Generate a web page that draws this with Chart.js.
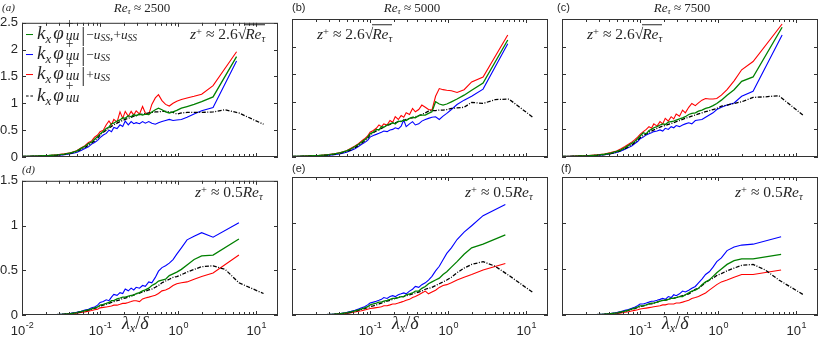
<!DOCTYPE html>
<html>
<head>
<meta charset="utf-8">
<script src="https://cdn.jsdelivr.net/npm/chart.js@4.4.1/dist/chart.umd.min.js"></script>
<style>
  html, body { margin: 0; padding: 0; background: #fff; width: 830px; height: 339px; overflow: hidden; position: relative; }
  .pan { position: absolute; }
  .pan canvas { display: block; }
  .t { position: absolute; white-space: nowrap; color: #262626; font-family: "Liberation Serif", "DejaVu Serif", serif; line-height: 1; z-index: 5; }
  .sans { font-family: "Liberation Sans", Arial, sans-serif; font-style: normal; }
  .t sub { font-size: 68%; vertical-align: -0.28em; line-height: 0; }
  .t sup { font-size: 68%; vertical-align: 0.45em; line-height: 0; }
  .su { position: relative; display: inline-block; font-size: 72%; margin-left: 2px; }
  .su .b { position: relative; top: 0.1em; }
  .su .p { position: absolute; left: 0; top: -0.78em; font-style: normal; }
  .kx { margin-right: 2px; }
  .bar { font-style: normal; font-size: 105%; vertical-align: -0.1em; margin: 0 1px 0 2px; }
  .t sub.bs { font-size: 70%; vertical-align: 0; }
  .t sub.bs sub { font-size: 72%; vertical-align: -0.25em; }
  .ov { border-top: 1px solid #262626; padding-top: 0px; margin-left: -1px; }
  .ln { display: inline-block; width: 7px; border-top: 1.4px solid; margin-right: 4px; vertical-align: middle; }
  .mid { transform: translateY(-50%); }
  .ctr { transform: translate(-50%, -50%); }
</style>
</head>
<body>
<div id="root"></div>
<script>
// ---- lambda_x / delta sample positions (shared), end points per panel ----
var lamGrid = [0.010, 0.013, 0.017, 0.022, 0.028, 0.035, 0.042, 0.050, 0.057, 0.064, 0.071, 0.078, 0.085, 0.093,
  0.10, 0.11, 0.12, 0.13, 0.14, 0.15, 0.165, 0.18, 0.195, 0.21, 0.23, 0.25, 0.27, 0.29, 0.32, 0.35, 0.38, 0.42,
  0.46, 0.51, 0.56, 0.62, 0.69, 0.77, 0.86, 0.96, 1.1, 1.3, 1.6, 2.0, 2.8, 4.0];
var lamEnd = [5.6, 5.8, 6.6, 6.0, 5.4, 6.4];      // last point of the coloured curves
var lamBlackTail = [6.0, 12.4];                    // black curve continues past the others

// ---- panel (a) Re_tau ~ 2500, z+ ~ 2.6 sqrt(Re_tau) ----
var blackA = [0.01, 0.013, 0.018, 0.025, 0.035, 0.05, 0.07, 0.1, 0.14, 0.18, 0.22, 0.26, 0.3, 0.35,
  0.41, 0.46, 0.5, 0.54, 0.57, 0.6, 0.63, 0.66, 0.68, 0.7, 0.72, 0.74, 0.76, 0.77, 0.79, 0.8, 0.81, 0.82, 0.83, 0.84,
  0.84, 0.85, 0.85, 0.84, 0.83, 0.8, 0.82, 0.83, 0.83, 0.83, 0.84, 0.88, 0.82, 0.61];
var greenA = [0.01, 0.014, 0.02, 0.028, 0.04, 0.055, 0.078, 0.11, 0.16, 0.2, 0.25, 0.28, 0.33, 0.38,
  0.43, 0.48, 0.53, 0.56, 0.62, 0.63, 0.67, 0.69, 0.73, 0.72, 0.77, 0.75, 0.79, 0.77, 0.8, 0.78, 0.8, 0.79, 0.84, 0.88,
  0.91, 0.88, 0.84, 0.82, 0.84, 0.87, 0.91, 0.94, 0.98, 1.03, 1.12, 1.87];
var redA = [0.01, 0.014, 0.02, 0.028, 0.04, 0.058, 0.08, 0.115, 0.17, 0.21, 0.27, 0.3, 0.37, 0.41,
  0.47, 0.5, 0.6, 0.67, 0.6, 0.7, 0.65, 0.84, 0.72, 0.85, 0.76, 0.85, 0.78, 0.86, 0.8, 0.94, 0.82, 0.79, 0.98, 1.1,
  1.16, 1.05, 0.98, 0.95, 1.0, 1.04, 1.07, 1.1, 1.13, 1.17, 1.33, 1.96];
var blueA = [0.01, 0.012, 0.016, 0.022, 0.03, 0.043, 0.06, 0.085, 0.12, 0.16, 0.19, 0.24, 0.27, 0.31,
  0.36, 0.41, 0.44, 0.5, 0.47, 0.55, 0.53, 0.6, 0.57, 0.67, 0.6, 0.66, 0.62, 0.64, 0.62, 0.66, 0.63, 0.66, 0.63, 0.61,
  0.64, 0.66, 0.68, 0.7, 0.68, 0.69, 0.7, 0.74, 0.8, 0.86, 0.92, 1.79];

// ---- panel (b) Re_tau ~ 5000 ----
var blackB = [0.01, 0.013, 0.018, 0.025, 0.035, 0.05, 0.07, 0.1, 0.13, 0.17, 0.21, 0.25, 0.29, 0.34,
  0.4, 0.44, 0.47, 0.5, 0.52, 0.54, 0.57, 0.59, 0.61, 0.62, 0.64, 0.65, 0.66, 0.68, 0.7, 0.71, 0.73, 0.75, 0.77, 0.8,
  0.83, 0.84, 0.84, 0.85, 0.85, 0.86, 0.88, 0.89, 0.9, 0.99, 0.97, 1.04, 1.05, 0.71];
var greenB = [0.01, 0.014, 0.02, 0.028, 0.04, 0.055, 0.078, 0.11, 0.15, 0.19, 0.23, 0.27, 0.31, 0.36,
  0.42, 0.45, 0.5, 0.49, 0.55, 0.54, 0.58, 0.6, 0.62, 0.6, 0.65, 0.64, 0.67, 0.66, 0.7, 0.72, 0.71, 0.75, 0.76, 0.76,
  0.79, 0.82, 1.0, 0.96, 0.94, 0.96, 1.0, 1.05, 1.12, 1.21, 1.34, 2.12];
var redB = [0.01, 0.014, 0.02, 0.028, 0.042, 0.058, 0.08, 0.115, 0.16, 0.2, 0.24, 0.29, 0.33, 0.38,
  0.45, 0.48, 0.52, 0.58, 0.55, 0.6, 0.58, 0.66, 0.63, 0.73, 0.68, 0.75, 0.72, 0.8, 0.77, 0.88, 0.82, 0.86, 0.94, 0.9,
  0.86, 0.85, 1.1, 1.24, 1.22, 1.21, 1.2, 1.17, 1.22, 1.36, 1.45, 2.21];
var blueB = [0.01, 0.012, 0.016, 0.022, 0.03, 0.043, 0.06, 0.085, 0.12, 0.15, 0.19, 0.23, 0.26, 0.3,
  0.36, 0.39, 0.41, 0.43, 0.45, 0.47, 0.46, 0.49, 0.5, 0.53, 0.51, 0.56, 0.67, 0.55, 0.6, 0.64, 0.58, 0.6, 0.65, 0.68,
  0.7, 0.72, 0.73, 0.68, 0.74, 0.79, 0.86, 0.95, 1.03, 1.1, 1.23, 2.05];

// ---- panel (c) Re_tau ~ 7500 ----
var blackC = [0.01, 0.012, 0.016, 0.022, 0.03, 0.043, 0.06, 0.085, 0.12, 0.15, 0.19, 0.22, 0.26, 0.3,
  0.35, 0.39, 0.42, 0.45, 0.47, 0.49, 0.52, 0.54, 0.56, 0.57, 0.59, 0.61, 0.62, 0.64, 0.66, 0.68, 0.7, 0.72, 0.74, 0.76,
  0.78, 0.8, 0.82, 0.84, 0.86, 0.88, 0.92, 0.94, 0.97, 1.0, 1.08, 1.09, 1.11, 0.75];
var greenC = [0.01, 0.013, 0.018, 0.025, 0.035, 0.05, 0.07, 0.1, 0.13, 0.17, 0.21, 0.25, 0.28, 0.33,
  0.38, 0.44, 0.42, 0.48, 0.5, 0.53, 0.55, 0.58, 0.6, 0.59, 0.63, 0.64, 0.65, 0.67, 0.69, 0.71, 0.73, 0.77, 0.79, 0.8,
  0.83, 0.85, 0.88, 0.9, 0.93, 0.97, 1.03, 1.12, 1.22, 1.37, 1.45, 2.35];
var redC = [0.01, 0.014, 0.02, 0.028, 0.04, 0.055, 0.08, 0.11, 0.15, 0.19, 0.23, 0.27, 0.31, 0.36,
  0.41, 0.46, 0.5, 0.55, 0.52, 0.6, 0.56, 0.64, 0.6, 0.7, 0.65, 0.73, 0.69, 0.78, 0.74, 0.85, 0.8, 0.9, 0.97, 0.93,
  0.98, 1.03, 1.06, 1.05, 1.05, 1.06, 1.12, 1.22, 1.38, 1.58, 1.73, 2.41];
var blueC = [0.01, 0.012, 0.016, 0.022, 0.03, 0.042, 0.058, 0.08, 0.11, 0.14, 0.17, 0.2, 0.24, 0.28,
  0.33, 0.36, 0.4, 0.42, 0.44, 0.46, 0.47, 0.49, 0.47, 0.52, 0.5, 0.55, 0.53, 0.57, 0.55, 0.58, 0.6, 0.62, 0.6, 0.66,
  0.67, 0.68, 0.72, 0.76, 0.8, 0.86, 0.9, 0.94, 0.98, 1.1, 1.19, 2.21];

// ---- panel (d) Re_tau ~ 2500, z+ ~ 0.5 Re_tau ----
var blackD = [0, 0.001, 0.002, 0.003, 0.005, 0.01, 0.015, 0.025, 0.035, 0.045, 0.055, 0.065, 0.075, 0.085,
  0.1, 0.11, 0.12, 0.13, 0.14, 0.15, 0.16, 0.17, 0.185, 0.19, 0.2, 0.21, 0.225, 0.235, 0.245, 0.26, 0.265, 0.28, 0.29, 0.31,
  0.33, 0.36, 0.38, 0.4, 0.42, 0.43, 0.45, 0.48, 0.51, 0.54, 0.55, 0.51, 0.36, 0.24];
var greenD = [0, 0.001, 0.002, 0.003, 0.005, 0.01, 0.016, 0.027, 0.037, 0.048, 0.058, 0.068, 0.08, 0.09,
  0.11, 0.12, 0.13, 0.14, 0.16, 0.16, 0.18, 0.19, 0.2, 0.2, 0.21, 0.22, 0.22, 0.24, 0.25, 0.27, 0.28, 0.3, 0.33, 0.35,
  0.38, 0.39, 0.4, 0.44, 0.46, 0.48, 0.51, 0.56, 0.62, 0.66, 0.67, 0.85];
var redD = [0, 0.001, 0.002, 0.003, 0.004, 0.008, 0.013, 0.02, 0.028, 0.035, 0.043, 0.05, 0.058, 0.065,
  0.08, 0.085, 0.09, 0.095, 0.1, 0.11, 0.11, 0.12, 0.13, 0.13, 0.14, 0.15, 0.16, 0.16, 0.15, 0.18, 0.19, 0.2, 0.21, 0.22,
  0.24, 0.27, 0.28, 0.3, 0.33, 0.35, 0.36, 0.37, 0.4, 0.43, 0.47, 0.67];
var blueD = [0, 0.001, 0.002, 0.003, 0.005, 0.011, 0.018, 0.03, 0.042, 0.055, 0.065, 0.08, 0.09, 0.11,
  0.14, 0.15, 0.17, 0.16, 0.2, 0.23, 0.22, 0.25, 0.24, 0.29, 0.27, 0.3, 0.28, 0.31, 0.3, 0.33, 0.32, 0.37, 0.36, 0.42,
  0.49, 0.53, 0.55, 0.58, 0.62, 0.68, 0.75, 0.84, 0.88, 0.92, 0.87, 1.03];

// ---- panel (e) Re_tau ~ 5000 ----
var blackE = [0, 0.001, 0.002, 0.003, 0.005, 0.009, 0.014, 0.022, 0.03, 0.04, 0.05, 0.06, 0.07, 0.08,
  0.09, 0.1, 0.11, 0.12, 0.13, 0.14, 0.15, 0.16, 0.17, 0.18, 0.19, 0.2, 0.2, 0.21, 0.22, 0.23, 0.24, 0.25, 0.26, 0.28,
  0.29, 0.3, 0.32, 0.34, 0.36, 0.38, 0.41, 0.46, 0.51, 0.55, 0.58, 0.53, 0.43, 0.24];
var greenE = [0, 0.001, 0.002, 0.003, 0.005, 0.009, 0.015, 0.025, 0.034, 0.045, 0.055, 0.066, 0.077, 0.09,
  0.11, 0.12, 0.13, 0.14, 0.14, 0.15, 0.16, 0.17, 0.18, 0.18, 0.19, 0.2, 0.2, 0.22, 0.23, 0.24, 0.26, 0.26, 0.29, 0.31,
  0.34, 0.36, 0.38, 0.4, 0.44, 0.47, 0.52, 0.58, 0.66, 0.73, 0.77, 0.87];
var redE = [0, 0.001, 0.002, 0.003, 0.004, 0.007, 0.012, 0.018, 0.025, 0.032, 0.04, 0.047, 0.055, 0.063,
  0.07, 0.075, 0.08, 0.085, 0.09, 0.1, 0.1, 0.11, 0.12, 0.12, 0.13, 0.14, 0.15, 0.16, 0.17, 0.19, 0.2, 0.22, 0.24, 0.26,
  0.23, 0.25, 0.27, 0.3, 0.32, 0.33, 0.35, 0.38, 0.41, 0.44, 0.49, 0.56];
var blueE = [0, 0.001, 0.002, 0.003, 0.005, 0.01, 0.016, 0.028, 0.04, 0.052, 0.064, 0.078, 0.09, 0.11,
  0.13, 0.14, 0.15, 0.16, 0.17, 0.19, 0.18, 0.2, 0.21, 0.2, 0.22, 0.23, 0.24, 0.23, 0.26, 0.28, 0.31, 0.3, 0.33, 0.35,
  0.38, 0.42, 0.48, 0.53, 0.6, 0.67, 0.73, 0.82, 0.9, 0.97, 1.08, 1.2];

// ---- panel (f) Re_tau ~ 7500 ----
var blackF = [0, 0.001, 0.002, 0.003, 0.005, 0.009, 0.014, 0.022, 0.03, 0.04, 0.05, 0.06, 0.07, 0.08,
  0.09, 0.1, 0.11, 0.12, 0.12, 0.13, 0.14, 0.15, 0.16, 0.16, 0.17, 0.18, 0.18, 0.19, 0.2, 0.21, 0.22, 0.23, 0.25, 0.28,
  0.29, 0.32, 0.35, 0.38, 0.4, 0.43, 0.45, 0.48, 0.51, 0.54, 0.55, 0.49, 0.38, 0.22];
var greenF = [0, 0.001, 0.002, 0.003, 0.005, 0.009, 0.015, 0.024, 0.033, 0.043, 0.053, 0.063, 0.074, 0.085,
  0.1, 0.1, 0.11, 0.12, 0.13, 0.13, 0.14, 0.15, 0.16, 0.16, 0.17, 0.18, 0.18, 0.19, 0.2, 0.2, 0.22, 0.24, 0.26, 0.27,
  0.29, 0.33, 0.36, 0.38, 0.42, 0.46, 0.5, 0.55, 0.59, 0.61, 0.61, 0.66];
var redF = [0, 0.001, 0.002, 0.003, 0.004, 0.007, 0.011, 0.017, 0.023, 0.03, 0.036, 0.043, 0.05, 0.057,
  0.065, 0.07, 0.075, 0.08, 0.085, 0.09, 0.095, 0.1, 0.11, 0.11, 0.12, 0.12, 0.12, 0.13, 0.13, 0.14, 0.15, 0.16, 0.18, 0.19,
  0.2, 0.22, 0.24, 0.27, 0.3, 0.33, 0.36, 0.38, 0.41, 0.44, 0.44, 0.49];
var blueF = [0, 0.001, 0.002, 0.003, 0.005, 0.01, 0.016, 0.027, 0.038, 0.05, 0.06, 0.072, 0.085, 0.1,
  0.12, 0.12, 0.13, 0.14, 0.15, 0.15, 0.16, 0.17, 0.18, 0.17, 0.2, 0.19, 0.22, 0.21, 0.23, 0.26, 0.25, 0.27, 0.29, 0.31,
  0.35, 0.39, 0.44, 0.47, 0.52, 0.58, 0.62, 0.7, 0.74, 0.76, 0.77, 0.85];

var blackSeries = [blackA, blackB, blackC, blackD, blackE, blackF];
var greenSeries = [greenA, greenB, greenC, greenD, greenE, greenF];
var redSeries = [redA, redB, redC, redD, redE, redF];
var blueSeries = [blueA, blueB, blueC, blueD, blueE, blueF];

var yMaxRow = [2.5, 1.5];
var xDecades = [0.01, 0.1, 1, 10];
var xExpLabels = ['-2', '-1', '0', '1'];

// plot area geometry (px)
var plotLeft = [22, 292, 562], plotTop = [19, 177], plotW = 256, plotH = 138;
var AX = '#333';

function pts(xs, ys) { return ys.map(function (v, i) { return { x: xs[i], y: v }; }); }

function isIntMantissa(v) {
  var m = v / Math.pow(10, Math.floor(Math.log10(v) + 1e-9));
  return Math.abs(m - Math.round(m)) < 1e-6 && Math.round(m) < 10;
}

// box + inward ticks (MATLAB style) + 10^n labels
var boxPlugin = {
  id: 'box',
  afterDraw: function (chart, args, opts) {
    var ctx = chart.ctx, a = chart.chartArea, xs = chart.scales.x, ys = chart.scales.y;
    ctx.save();
    ctx.strokeStyle = AX; ctx.lineWidth = 1;
    ctx.strokeRect(a.left + 0.5, a.top + 0.5, a.right - a.left - 1, a.bottom - a.top - 1);
    ctx.beginPath();
    xs.ticks.forEach(function (t) {
      if (!isIntMantissa(t.value)) return;
      var px = Math.round(xs.getPixelForValue(t.value)) + 0.5;
      var len = Math.abs(Math.log10(t.value) - Math.round(Math.log10(t.value))) < 1e-6 ? 4 : 3;
      ctx.moveTo(px, a.bottom); ctx.lineTo(px, a.bottom - len);
      ctx.moveTo(px, a.top); ctx.lineTo(px, a.top + len);
    });
    ys.ticks.forEach(function (t) {
      var py = Math.round(ys.getPixelForValue(t.value)) + 0.5;
      ctx.moveTo(a.left, py); ctx.lineTo(a.left + 4, py);
      ctx.moveTo(a.right, py); ctx.lineTo(a.right - 4, py);
    });
    ctx.stroke();
    if (opts.xLabels) {
      ctx.fillStyle = '#262626';
      ctx.textBaseline = 'alphabetic';
      xDecades.forEach(function (v, i) {
        if (v === 0.01 && !opts.firstLabel) return;
        var px = xs.getPixelForValue(v);
        ctx.font = '13px "Liberation Sans", Arial, sans-serif';
        var w1 = ctx.measureText('10').width;
        ctx.font = '9px "Liberation Sans", Arial, sans-serif';
        var w2 = ctx.measureText(xExpLabels[i]).width;
        var x0 = px - (w1 + w2) / 2;
        ctx.font = '13px "Liberation Sans", Arial, sans-serif';
        ctx.fillText('10', x0, a.bottom + 20);
        ctx.font = '9px "Liberation Sans", Arial, sans-serif';
        ctx.fillText(xExpLabels[i], x0 + w1 + 0.5, a.bottom + 13);
      });
    }
    ctx.restore();
  }
};

function makePanel(p) {
  var row = p < 3 ? 0 : 1, col = p % 3;
  var div = document.createElement('div');
  div.className = 'pan';
  div.style.left = (plotLeft[col] - 22) + 'px';
  div.style.top = (plotTop[row] - 8) + 'px';
  var cv = document.createElement('canvas');
  cv.width = 22 + plotW + 6; cv.height = 8 + plotH + 26;
  div.appendChild(cv);
  document.getElementById('root').appendChild(div);

  var colX = lamGrid.slice(0, 45).concat([lamEnd[p]]);
  var blkX = lamGrid.concat(lamBlackTail);

  new Chart(cv, {
    type: 'line',
    data: {
      datasets: [
        { label: 'green', data: pts(colX, greenSeries[p]), borderColor: '#008000', borderWidth: 1.3, order: 0 },
        { label: 'black', data: pts(blkX, blackSeries[p]), borderColor: '#000000', borderWidth: 1.3, borderDash: [4, 1.5, 1, 1.5], order: 1 },
        { label: 'red', data: pts(colX, redSeries[p]), borderColor: '#ff0000', borderWidth: 1.1, order: 2 },
        { label: 'blue', data: pts(colX, blueSeries[p]), borderColor: '#0000ff', borderWidth: 1.1, order: 3 }
      ]
    },
    options: {
      responsive: false, animation: false, events: [],
      layout: { padding: { top: 8, right: 6, left: 0, bottom: 0 } },
      elements: { point: { radius: 0 }, line: { tension: 0, fill: false } },
      plugins: {
        legend: { display: false }, tooltip: { enabled: false },
        box: { xLabels: row === 1, firstLabel: col === 0 }
      },
      scales: {
        x: {
          type: 'logarithmic', min: 0.01, max: 19,
          grid: { display: false, drawTicks: false }, border: { display: false },
          ticks: { display: false },
          afterFit: function (s) { s.height = 26; }
        },
        y: {
          min: 0, max: yMaxRow[row],
          grid: { display: false, drawTicks: false }, border: { display: false },
          ticks: {
            display: col === 0, stepSize: 0.5, padding: 4, color: '#262626',
            font: { family: 'Liberation Sans', size: 13 },
            callback: function (v) { return String(Math.round(v * 10) / 10); }
          },
          afterFit: function (s) { s.width = 22; }
        }
      }
    },
    plugins: [boxPlugin]
  });
}

for (var p = 0; p < 6; p++) makePanel(p);

// ---- text overlays ----
var texts = [
  ['t', 2, 7, '<i>(a)</i>', 'font-size:11px', 'mid'],
  ['t sans', 292, 7, '(b)', 'font-size:11px', 'mid'],
  ['t sans', 557, 7, '(c)', 'font-size:11px', 'mid'],
  ['t', 22, 169, '<i>(d)</i>', 'font-size:11px', 'mid'],
  ['t sans', 292, 168, '(e)', 'font-size:11px', 'mid'],
  ['t sans', 561, 168, '(f)', 'font-size:11px', 'mid'],
  ['t', 142, 7, '<i>Re</i><sub><i>τ</i></sub> ≈ 2500', 'font-size:13px', 'ctr'],
  ['t', 412, 7, '<i>Re</i><sub><i>τ</i></sub> ≈ 5000', 'font-size:13px', 'ctr'],
  ['t', 682, 7, '<i>Re</i><sub><i>τ</i></sub> ≈ 7500', 'font-size:13px', 'ctr']
];
var zTop = '<i>z</i><sup>+</sup> ≈ 2.6<span>√</span><span class="ov"><i>Re</i><sub><i>τ</i></sub></span>';
var zBot = '<i>z</i><sup>+</sup> ≈ 0.5<i>Re</i><sub><i>τ</i></sub>';
var xLab = '<i>λ</i><sub><i>x</i></sub>/<i>δ</i>';
texts.push(['t', 190, 34, zTop, 'font-size:15.5px', 'mid']);
texts.push(['t', 317, 34, zTop, 'font-size:15.5px', 'mid']);
texts.push(['t', 587, 34, zTop, 'font-size:15.5px', 'mid']);
texts.push(['t', 195, 192, zBot, 'font-size:15.5px', 'mid']);
texts.push(['t', 465, 192, zBot, 'font-size:15.5px', 'mid']);
texts.push(['t', 735, 192, zBot, 'font-size:15.5px', 'mid']);
texts.push(['t', 122, 323, xLab, 'font-size:18px', 'mid']);
texts.push(['t', 392, 323, xLab, 'font-size:18px', 'mid']);
texts.push(['t', 662, 323, xLab, 'font-size:18px', 'mid']);

// legend of panel (a)
var kphi = '<i>k</i><sub class="kx"><i>x</i></sub><i>φ</i><span class="su"><span class="p">+</span><i class="b">uu</i></span>';
var legRows = [
  ['#008000', 'solid', kphi + '<span class="bar">|</span><sub class="bs">−<i>u<sub>SS</sub></i>,+<i>u<sub>SS</sub></i></sub>', 34],
  ['#0000ff', 'solid', kphi + '<span class="bar">|</span><sub class="bs">−<i>u<sub>SS</sub></i></sub>', 54],
  ['#ff0000', 'solid', kphi + '<span class="bar">|</span><sub class="bs">+<i>u<sub>SS</sub></i></sub>', 74],
  ['#000000', 'dashed', kphi, 94]
];
legRows.forEach(function (r) {
  texts.push(['t', 26, r[3], '<span class="ln" style="border-top-color:' + r[0] + ';border-top-style:' + r[1] + '"></span>' + r[2], 'font-size:19px', 'mid']);
});

texts.forEach(function (t) {
  var el = document.createElement('div');
  el.className = t[0] + ' ' + t[5];
  el.style.left = t[1] + 'px';
  el.style.top = t[2] + 'px';
  el.style.cssText += ';' + t[4];
  el.innerHTML = t[3];
  document.body.appendChild(el);
});
</script>
</body>
</html>
